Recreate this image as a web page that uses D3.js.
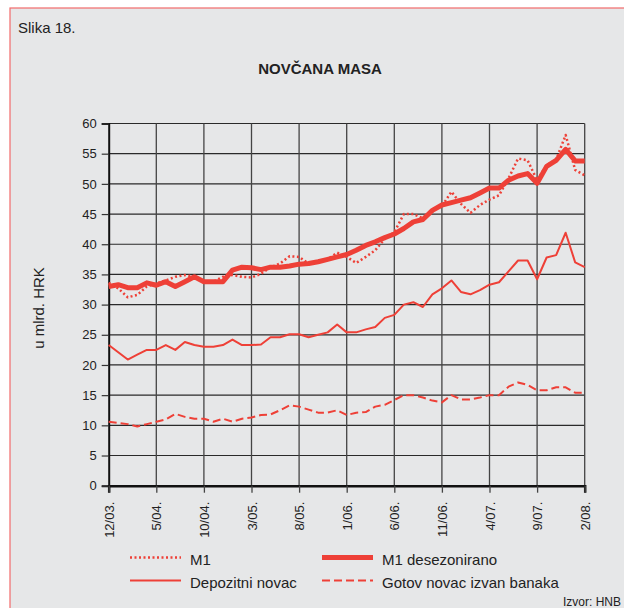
<!DOCTYPE html>
<html><head><meta charset="utf-8">
<script src="https://cdn.jsdelivr.net/npm/d3@7"></script>
<style>
html,body{margin:0;padding:0;background:#fff;}
svg{display:block;font-family:"Liberation Sans",Arial,sans-serif;}
</style></head>
<body>
<svg id="chart" width="624" height="608"></svg>
<script>
// Months Dec 2003 .. Feb 2008 (51 monthly points)
const tickLabels = ["12/03.","5/04.","10/04.","3/05.","8/05.","1/06.","6/06.","11/06.","4/07.","9/07.","2/08."];
const yTicks = [0,5,10,15,20,25,30,35,40,45,50,55,60];

const m1 = [33.6,32.7,31.2,31.6,33.0,33.5,34.0,34.6,34.9,34.6,33.9,33.8,34.6,34.9,34.6,34.5,35.1,36.2,36.8,38.0,
            37.9,36.8,37.1,37.5,38.6,37.9,36.9,37.9,39.0,40.9,42.0,45.0,45.0,44.3,45.6,46.3,48.7,46.7,45.2,46.5,
            47.4,48.1,50.9,54.2,53.9,50.6,53.1,54.0,58.1,52.3,51.4];
const m1Sa = [33.0,33.3,32.8,32.8,33.6,33.2,33.8,33.0,33.8,34.6,33.8,33.8,33.8,35.7,36.2,36.1,35.8,36.2,36.2,36.4,
              36.7,36.8,37.1,37.5,37.9,38.3,39.0,39.8,40.4,41.1,41.7,42.6,43.7,44.1,45.6,46.5,46.9,47.3,47.7,48.5,
              49.3,49.3,50.6,51.3,51.7,50.1,52.9,53.9,55.7,53.8,53.8];
const deposits = [23.3,22.1,20.9,21.7,22.5,22.5,23.3,22.5,23.8,23.3,23.0,23.0,23.3,24.2,23.3,23.3,23.4,24.6,24.6,25.1,
                  25.1,24.6,25.0,25.4,26.7,25.4,25.4,25.9,26.3,27.8,28.3,30.0,30.4,29.6,31.7,32.7,34.0,32.1,31.7,32.4,
                  33.3,33.7,35.5,37.3,37.3,34.2,37.8,38.2,41.9,37.0,36.2];
const currency = [10.6,10.4,10.2,9.8,10.2,10.6,11.0,11.9,11.4,11.1,11.1,10.6,11.1,10.6,11.1,11.3,11.7,11.8,12.5,13.3,
                  13.1,12.6,12.1,12.1,12.5,11.7,12.1,12.2,13.1,13.4,14.2,15.0,15.0,14.6,14.1,13.8,15.0,14.3,14.3,14.6,
                  15.0,15.0,16.4,17.1,16.7,15.8,15.8,16.3,16.3,15.4,15.4];

const RED = "#ee4037";
const svg = d3.select("#chart");

// frame
svg.append("rect").attr("x",10).attr("y",8).attr("width",630).attr("height",620)
  .attr("fill","#e6e7e8").attr("stroke","#f26b6b").attr("stroke-width",1.2);

svg.append("text").attr("x",18).attr("y",33).attr("font-size",15).attr("fill","#222").text("Slika 18.");
svg.append("text").attr("x",320).attr("y",74).attr("text-anchor","middle").attr("font-size",15)
  .attr("font-weight","bold").attr("fill","#222").text("NOVČANA MASA");

const L = 108.7, R = 584.7, T = 123.5, B = 485.7;
const x = d3.scaleLinear().domain([0, m1.length - 1]).range([L, R]);
const y = d3.scaleLinear().domain([0, 60]).range([B, T]);
const tickIdx = tickLabels.map((d,i) => i*5);

// grid
const g = svg.append("g");
g.selectAll(".hg").data(yTicks.filter(v => v > 0)).enter().append("line")
  .attr("x1",L).attr("x2",R).attr("y1",d=>y(d)).attr("y2",d=>y(d))
  .attr("stroke","#2a2a2a").attr("stroke-width",1.2);
g.selectAll(".vg").data(tickIdx.filter(v => v > 0)).enter().append("line")
  .attr("x1",d=>x(d)).attr("x2",d=>x(d)).attr("y1",T).attr("y2",B)
  .attr("stroke","#444").attr("stroke-width",1.3);

// axes
const yAxis = d3.axisLeft(y).tickValues(yTicks).tickSize(7).tickPadding(5);
const ya = svg.append("g").attr("transform",`translate(${L},0)`).call(yAxis);
ya.select(".domain").attr("stroke","#111").attr("stroke-width",2);
ya.selectAll(".tick line").attr("stroke","#333").attr("stroke-width",1.2);
ya.selectAll(".tick text").attr("font-size",13).attr("fill","#222").attr("font-family","Liberation Sans, Arial, sans-serif");

const xAxis = d3.axisBottom(x).tickValues(tickIdx).tickFormat((d,i)=>tickLabels[i]).tickSize(7).tickPadding(0);
const xa = svg.append("g").attr("transform",`translate(0,${B})`).call(xAxis);
xa.select(".domain").attr("stroke","#111").attr("stroke-width",2.5);
xa.selectAll(".tick line").attr("stroke","#444").attr("stroke-width",1.3);
xa.selectAll(".tick text").attr("font-size",13).attr("fill","#222").attr("font-family","Liberation Sans, Arial, sans-serif")
  .attr("transform","rotate(-90)").attr("text-anchor","end").attr("x",-16).attr("y",0).attr("dy","0.35em");

svg.append("text").attr("transform","translate(44,308) rotate(-90)").attr("text-anchor","middle")
  .attr("font-size",15).attr("fill","#222").text("u mlrd. HRK");

// series
const line = d3.line().x((d,i)=>x(i)).y(d=>y(d));
const series = [
  {data: currency, w: 2, dash: "8,4"},
  {data: deposits, w: 2, dash: null},
  {data: m1, w: 2.5, dash: "2,2.5"},
  {data: m1Sa, w: 5, dash: null}
];
series.forEach(s => {
  svg.append("path").datum(s.data).attr("d",line).attr("fill","none")
    .attr("stroke",RED).attr("stroke-width",s.w).attr("stroke-linejoin","round")
    .attr("stroke-dasharray",s.dash);
});

// legend
const legend = [
  {label:"M1", x:130, y:557.5, w:2.5, dash:"2,2.5"},
  {label:"M1 desezonirano", x:322, y:557.5, w:5, dash:null},
  {label:"Depozitni novac", x:130, y:580.5, w:2, dash:null},
  {label:"Gotov novac izvan banaka", x:322, y:580.5, w:2, dash:"8,4"}
];
legend.forEach(l => {
  svg.append("line").attr("x1",l.x).attr("x2",l.x+51).attr("y1",l.y).attr("y2",l.y)
    .attr("stroke",RED).attr("stroke-width",l.w).attr("stroke-dasharray",l.dash);
  svg.append("text").attr("x",l.x+60).attr("y",l.y+7).attr("font-size",15).attr("fill","#222").text(l.label);
});
svg.append("text").attr("x",621).attr("y",606).attr("text-anchor","end").attr("font-size",12)
  .attr("fill","#222").text("Izvor: HNB");
</script>
</body></html>
